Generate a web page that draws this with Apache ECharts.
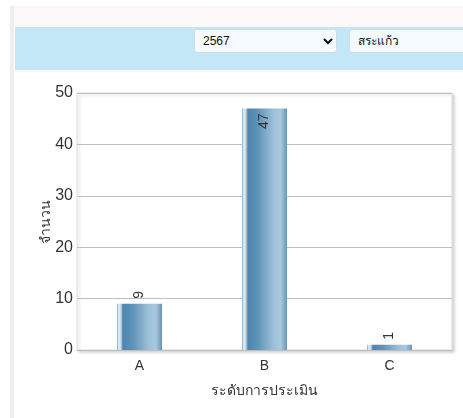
<!DOCTYPE html>
<html>
<head>
<meta charset="utf-8">
<script src="https://cdn.jsdelivr.net/npm/echarts@6/dist/echarts.min.js"></script>
<style>
  html, body { margin: 0; padding: 0; width: 463px; height: 418px; overflow: hidden; background: #ffffff; font-family: "Liberation Sans", Arial, sans-serif; }
  #strip { position: absolute; left: 10px; top: 6px; width: 4px; height: 412px; background: #eeeeee; }
  #top { position: absolute; left: 14px; top: 6px; width: 449px; height: 21px; background: #fdf8f8; }
  #band { position: absolute; left: 15px; top: 27px; width: 448px; height: 43px; background: #c3e7f6; }
  #line { position: absolute; left: 15px; top: 70px; width: 448px; height: 2px; background: #fcf5f5; }
  select { position: absolute; top: 29px; height: 24px; background: #f4fafd; border: 1px solid #cfdde5; border-radius: 3px; font-size: 12px; font-family: "Liberation Sans", Arial, sans-serif; color: #111; padding: 0 4px; }
  #sel1 { left: 194px; width: 143px; }
  #sel2 { left: 349px; width: 130px; }
  #chart { position: absolute; left: 15px; top: 72px; width: 448px; height: 346px; }
</style>
</head>
<body>
<div id="strip"></div>
<div id="top"></div>
<div id="band"></div>
<div id="line"></div>
<select id="sel1"><option>2567</option></select>
<select id="sel2"><option>สระแก้ว</option></select>
<div id="chart"></div>
<script>
const categories = ["A", "B", "C"];
const counts = [9, 47, 1];
const yTicks = [0, 10, 20, 30, 40, 50];
const yAxisName = "จำนวน";
const xAxisName = "ระดับการประเมิน";

const chart = echarts.init(document.getElementById('chart'), null, { renderer: 'canvas' });

const barGradient = new echarts.graphic.LinearGradient(0, 0, 1, 0, [
  { offset: 0, color: '#7ea8c6' },
  { offset: 0.04, color: '#e8f1f7' },
  { offset: 0.09, color: '#bcd4e4' },
  { offset: 0.13, color: '#4f86ae' },
  { offset: 0.35, color: '#5f93b8' },
  { offset: 0.7, color: '#9dc0d8' },
  { offset: 0.86, color: '#a9c8dd' },
  { offset: 1, color: '#6895b6' }
]);

chart.setOption({
  animation: false,
  grid: {
    left: 62, right: 11, top: 21, bottom: 68,
    show: true,
    borderColor: '#dcdcdc',
    borderWidth: 1,
    backgroundColor: '#ffffff',
    shadowColor: 'rgba(0,0,0,0.18)',
    shadowBlur: 3,
    shadowOffsetX: 2,
    shadowOffsetY: 2
  },
  xAxis: {
    type: 'category',
    data: categories,
    name: xAxisName,
    nameLocation: 'middle',
    nameGap: 34,
    nameTextStyle: { fontSize: 14, color: '#333', fontFamily: 'Noto Sans, sans-serif' },
    axisLine: { lineStyle: { color: '#bdbdbd' } },
    axisTick: { show: false },
    axisLabel: { fontSize: 14, color: '#333', margin: 9, fontFamily: 'Liberation Sans, Arial' }
  },
  yAxis: {
    type: 'value',
    min: yTicks[0],
    max: yTicks[yTicks.length - 1],
    interval: 10,
    name: yAxisName,
    nameLocation: 'middle',
    nameGap: 24,
    nameMoveOverlap: false,
    nameTextStyle: { fontSize: 14, color: '#333', fontFamily: 'Noto Sans, sans-serif' },
    axisLine: { show: false },
    axisTick: { show: false },
    axisLabel: { fontSize: 16, color: '#333', margin: 4, fontFamily: 'Liberation Sans, Arial' },
    splitLine: { lineStyle: { color: '#bfbfbf', width: 1 } }
  },
  series: [{
    type: 'bar',
    data: counts.map(function (v) {
      const big = v > 20;
      return {
        value: v,
        label: big ? {
          position: 'insideTop', rotate: 90, align: 'right', verticalAlign: 'middle', distance: 5
        } : {
          position: 'top', rotate: 90, align: 'left', verticalAlign: 'middle', distance: 5
        }
      };
    }),
    barWidth: 45,
    itemStyle: { color: barGradient },
    label: {
      show: true,
      fontSize: 14,
      color: '#333',
      fontFamily: 'Liberation Sans, Arial'
    }
  }]
});
</script>
</body>
</html>
